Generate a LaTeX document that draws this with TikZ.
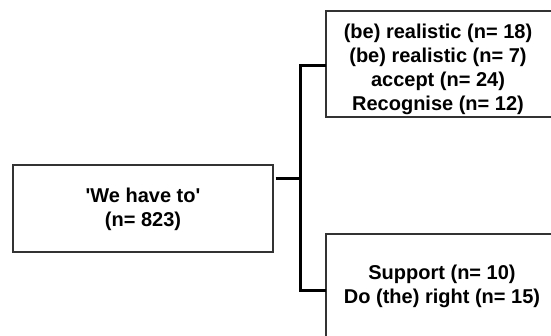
\documentclass[tikz,border=0pt]{standalone}
\usepackage{fontspec}
\setmainfont{Liberation Sans}
\begin{document}
\begin{tikzpicture}[x=1pt,y=-1pt,
  box/.style={draw=black!80, line width=1.6pt, fill=white, inner sep=0pt},
  lbl/.style={font=\fontsize{20}{24}\selectfont\bfseries, align=center, text=black, inner sep=0pt},
  conn/.style={draw=black, line width=3pt, line join=miter, line cap=butt}]
  \useasboundingbox (0,0) rectangle (551,336);
  \clip (0,0) rectangle (551,336);

  % source box
  \node[box, minimum width=260pt, minimum height=87pt] (src) at (143,208.5) {};
  \node[lbl] (srctext) at (143,209.5) {\textquotesingle We have to\textquotesingle\\(n= 823)};

  % upper target box (runs off the right edge)
  \node[box, minimum width=227pt, minimum height=106pt] (up) at (439.5,64) {};
  \node[lbl] (uptext) at (438,69) {(be) realistic (n= 18)\\(be) realistic (n= 7)\\accept (n= 24)\\Recognise (n= 12)};

  % lower target box (runs off the right and bottom edges)
  \node[box, minimum width=232pt, minimum height=106pt] (low) at (442,287) {};
  \node[lbl] (lowtext) at (442,286.5) {Support (n= 10)\\Do (the) right (n= 15)};

  % bracket connector
  \coordinate (stem) at (275.5,179);
  \coordinate (fork) at (300,179);
  \coordinate (upin) at (325.5,66);
  \coordinate (lowin) at (325.5,291);
  \draw[conn] (stem) -- (fork);
  \draw[conn] (upin) -| (fork) |- (lowin);
\end{tikzpicture}
\end{document}
